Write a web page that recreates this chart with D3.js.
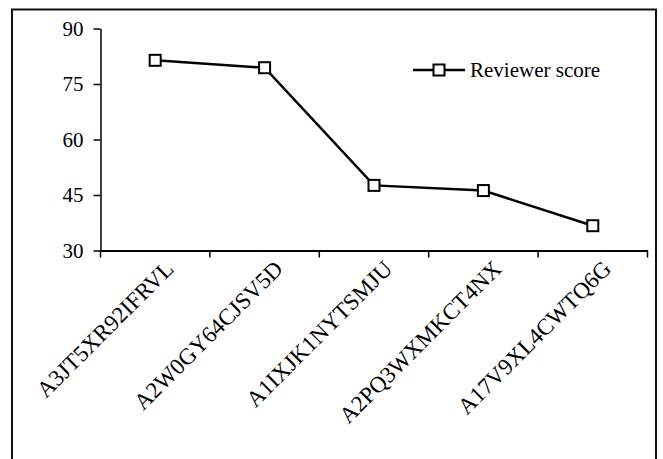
<!DOCTYPE html>
<html><head><meta charset="utf-8">
<script src="https://cdn.jsdelivr.net/npm/d3@7"></script>
<style>body{margin:0;background:#fff}svg{display:block}</style>
</head><body><div id="c"></div>
<script>
const categories = ["A3JT5XR92IFRVL","A2W0GY64CJSV5D","A1IXJK1NYTSMJU","A2PQ3WXMKCT4NX","A17V9XL4CWTQ6G"];
const reviewerScore = [81.4, 79.4, 47.6, 46.2, 36.7];
const yTicks = [30, 45, 60, 75, 90];
const seriesName = "Reviewer score";
const FONT = "'Liberation Serif', 'Times New Roman', Times, serif";

const W = 663, H = 459;
const svg = d3.select("#c").append("svg").attr("width", W).attr("height", H)
  .attr("font-family", FONT);

svg.append("rect").attr("x", 12).attr("y", 9.5).attr("width", 644).attr("height", 470)
  .attr("fill", "none").attr("stroke", "#111").attr("stroke-width", 2);

const x = d3.scaleBand().domain(categories).range([100.5, 647.5]);
const y = d3.scaleLinear().domain([30, 90]).range([250.5, 28.5]);

// y axis
const ya = svg.append("g").attr("transform", "translate(100.5,0)")
  .call(d3.axisLeft(y).tickValues(yTicks).tickSize(7).tickPadding(10).tickSizeOuter(0));
ya.attr("font-family", FONT).attr("font-size", 21);
ya.select(".domain").attr("stroke", "#000").attr("stroke-width", 1.5);
ya.selectAll(".tick line").attr("stroke", "#000").attr("stroke-width", 1.5);
ya.selectAll("text").attr("font-family", FONT).attr("font-size", 21).attr("fill", "#000");

// x axis
const xa = svg.append("g").attr("transform", "translate(0,250.5)")
  .call(d3.axisBottom(x).tickSize(0).tickFormat(""));
xa.attr("font-family", FONT).attr("font-size", 23);
xa.select(".domain").attr("stroke", "#000").attr("stroke-width", 2);
const bounds = categories.map(c => x(c)).concat([x.range()[1]]);
xa.selectAll(".bt").data(bounds).enter().append("line")
  .attr("x1", d => d).attr("x2", d => d).attr("y1", 0).attr("y2", 7)
  .attr("stroke", "#000").attr("stroke-width", 1.5);
xa.selectAll(".lbl").data(categories).enter().append("text")
  .attr("transform", d => `translate(${x(d) + x.bandwidth()/2 + 14},${14}) rotate(-45)`)
  .attr("text-anchor", "end").attr("dy", "0.35em")
  .attr("font-family", FONT).attr("font-size", 23).attr("fill", "#000").text(d => d);

// line
const line = d3.line().x((d, i) => x(categories[i]) + x.bandwidth()/2).y(d => y(d));
svg.append("path").datum(reviewerScore).attr("d", line)
  .attr("fill", "none").attr("stroke", "#000").attr("stroke-width", 2.5);
svg.selectAll(".pt").data(reviewerScore).enter().append("rect")
  .attr("x", (d, i) => x(categories[i]) + x.bandwidth()/2 - 5.5)
  .attr("y", d => y(d) - 5.5).attr("width", 11).attr("height", 11)
  .attr("fill", "#fff").attr("stroke", "#000").attr("stroke-width", 2);

// legend
const lg = svg.append("g").attr("transform", "translate(413,70)");
lg.append("line").attr("x1", 0).attr("x2", 52).attr("y1", 0).attr("y2", 0)
  .attr("stroke", "#000").attr("stroke-width", 2.5);
lg.append("rect").attr("x", 26 - 5.5).attr("y", -5.5).attr("width", 11).attr("height", 11)
  .attr("fill", "#fff").attr("stroke", "#000").attr("stroke-width", 2);
lg.append("text").attr("x", 57).attr("y", 0).attr("dy", "0.33em")
  .attr("font-family", FONT).attr("font-size", 21).attr("fill", "#000").text(seriesName);
</script></body></html>
